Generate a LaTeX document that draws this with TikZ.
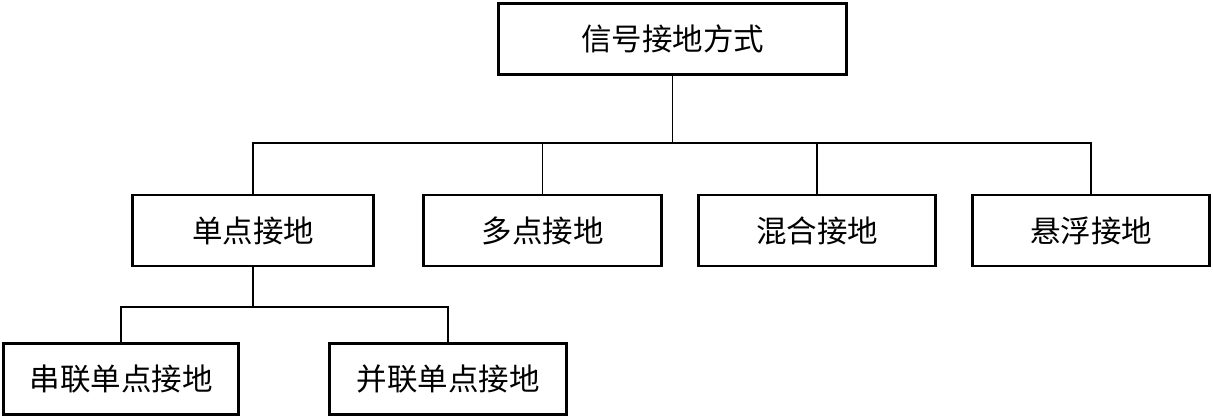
\documentclass[tikz,border=0pt]{standalone}
\usepackage{fontspec}
\newfontfamily\cjk{Noto Sans CJK SC}
\usepackage{tikz}
\usetikzlibrary{positioning}

\begin{document}
\begin{tikzpicture}[x=1pt, y=-1pt,
    box/.style={rectangle, draw, line width=2.6pt, fill=white, minimum height=71pt, inner sep=0pt, font=\cjk\fontsize{30.5}{36}\selectfont},
    link/.style={draw, line width=1.3pt}]
    \useasboundingbox (0,0) rectangle (1213,419);
    % top level
    \node [box, minimum width=348pt] (root) at (672.5,39) {信号接地方式};
    % second level
    \node [box, minimum width=241pt] (single) at (253,230.5) {单点接地};
    \node [box, minimum width=238pt] (multi) at (542.5,230.5) {多点接地};
    \node [box, minimum width=237pt] (hybrid) at (817,230.5) {混合接地};
    \node [box, minimum width=237pt] (float) at (1091,230.5) {悬浮接地};
    % third level
    \node [box, minimum width=235pt] (series) at (121,379) {串联单点接地};
    \node [box, minimum width=237pt] (parallel) at (448,379) {并联单点接地};

    \coordinate (bus) at (672.5,143);
    \coordinate (subbus) at (253,307);
    \draw [link] (root.south) -- (bus);
    \foreach \n in {single, multi, hybrid, float}
        \draw [link] (\n.north) |- (bus);
    \draw [link] (single.south) -- (subbus);
    \foreach \n in {series, parallel}
        \draw [link] (\n.north) |- (subbus);
\end{tikzpicture}
\end{document}
